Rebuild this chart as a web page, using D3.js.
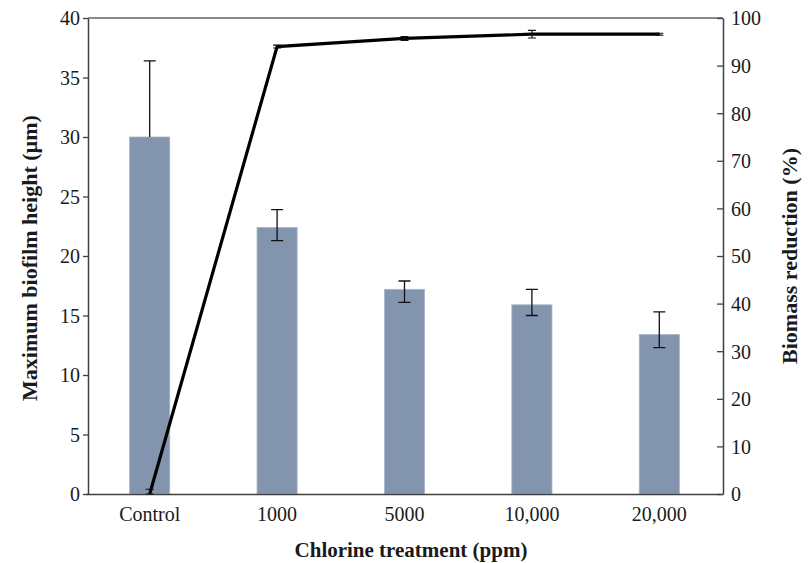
<!DOCTYPE html>
<html>
<head>
<meta charset="utf-8">
<script src="https://cdn.jsdelivr.net/npm/d3@7"></script>
<style>
  body { margin: 0; background: #fff; }
  svg text { font-family: "Liberation Serif", "Times New Roman", serif; fill: #1a1a1a; }
</style>
</head>
<body>
<svg id="main-svg"></svg>
<script>
// data
var categories = ["Control", "1000", "5000", "10,000", "20,000"];
var heightMean = [30.0, 22.4, 17.2, 15.9, 13.4];
var heightErrUp = [6.4, 1.5, 0.7, 1.3, 1.9];
var heightErrDown = [0, 1.1, 1.1, 0.9, 1.1];
var reduction = [0, 94.0, 95.7, 96.6, 96.6];
var reductionErr = [1.0, 0.3, 0.4, 0.8, 0.2];
var leftTicks = [0, 5, 10, 15, 20, 25, 30, 35, 40];
var rightTicks = [0, 10, 20, 30, 40, 50, 60, 70, 80, 90, 100];

var width = 810,
  height = 563,
  plotLeft = 88,
  plotRight = 723,
  plotTop = 18,
  plotBottom = 494,
  axisColor = "#404040",
  barColor = "#8395ae";

var svg = d3.select("#main-svg").attr("width", width).attr("height", height);

var x = d3.scaleBand().domain(categories).range([plotLeft - 2, plotRight]).paddingInner(0.685).paddingOuter(0.3425);
var yL = d3.scaleLinear().domain([0, 40]).range([plotBottom, plotTop]);
var yR = d3.scaleLinear().domain([0, 100]).range([plotBottom, plotTop]);

function cx(d) { return x(d) + x.bandwidth() / 2; }

// bars
svg.append("g").selectAll("rect").data(categories).enter().append("rect")
  .attr("x", function (d) { return x(d); })
  .attr("width", x.bandwidth())
  .attr("y", function (d, i) { return yL(heightMean[i]); })
  .attr("height", function (d, i) { return plotBottom - yL(heightMean[i]); })
  .attr("fill", barColor)
  .attr("stroke", "#a9b6c8").attr("stroke-width", 0.8);

// bar error bars
var eb = svg.append("g").attr("stroke", "#111").attr("stroke-width", 1.3).attr("fill", "none");
categories.forEach(function (c, i) {
  var xc = cx(c), y1 = yL(heightMean[i] + heightErrUp[i]), y2 = yL(heightMean[i] - heightErrDown[i]);
  var d = "M" + xc + "," + y1 + "V" + y2 + "M" + (xc - 6) + "," + y1 + "H" + (xc + 6);
  if (heightErrDown[i] > 0) d += "M" + (xc - 6) + "," + y2 + "H" + (xc + 6);
  eb.append("path").attr("d", d);
});

// frame top
svg.append("line").attr("x1", plotLeft).attr("x2", plotRight).attr("y1", plotTop).attr("y2", plotTop)
  .attr("stroke", "#666").attr("stroke-width", 1.5);

// axes
var gL = svg.append("g").attr("transform", "translate(" + plotLeft + ",0)")
  .call(d3.axisLeft(yL).tickValues(leftTicks).tickSize(5).tickSizeOuter(0));
var gR = svg.append("g").attr("transform", "translate(" + plotRight + ",0)")
  .call(d3.axisRight(yR).tickValues(rightTicks).tickSize(-6).tickSizeOuter(0));
var gB = svg.append("g").attr("transform", "translate(0," + plotBottom + ")")
  .call(d3.axisBottom(x).tickSize(0).tickSizeOuter(0));

[gL, gR, gB].forEach(function (g) {
  g.select(".domain").attr("stroke", axisColor).attr("stroke-width", 1.5);
  g.selectAll(".tick line").attr("stroke", axisColor).attr("stroke-width", 1.3);
  g.selectAll(".tick text").attr("font-size", 20).attr("fill", "#1a1a1a")
    .attr("font-family", "'Liberation Serif', 'Times New Roman', serif");
});
gL.selectAll(".tick text").attr("x", -8).attr("dy", "0.34em");
gR.selectAll(".tick text").attr("x", 8).attr("dy", "0.34em");
gB.selectAll(".tick text").attr("y", 13);

// line series
var line = d3.line().x(function (d, i) { return cx(categories[i]); }).y(function (d) { return yR(d); });
svg.append("path").datum(reduction).attr("d", line)
  .attr("fill", "none").attr("stroke", "#000").attr("stroke-width", 3.2).attr("stroke-linejoin", "miter");

var le = svg.append("g").attr("stroke", "#111").attr("stroke-width", 1.2).attr("fill", "none");
reduction.forEach(function (v, i) {
  var xc = cx(categories[i]), y1 = yR(v + reductionErr[i]), y2 = yR(Math.max(0, v - reductionErr[i]));
  le.append("path").attr("d", "M" + xc + "," + y1 + "V" + y2 + "M" + (xc - 4) + "," + y1 + "H" + (xc + 4) + "M" + (xc - 4) + "," + y2 + "H" + (xc + 4));
});

// titles
svg.append("text").attr("x", 411).attr("y", 557).attr("text-anchor", "middle")
  .attr("font-size", 21).attr("font-weight", "bold").text("Chlorine treatment (ppm)");
svg.append("text").attr("transform", "translate(37,258) rotate(-90)")
  .attr("text-anchor", "middle").attr("font-size", 22).attr("font-weight", "bold")
  .text("Maximum biofilm height (\u00b5m)");
svg.append("text").attr("transform", "translate(797,256) rotate(-90)")
  .attr("text-anchor", "middle").attr("font-size", 22).attr("font-weight", "bold")
  .text("Biomass reduction (%)");
</script>
</body>
</html>
